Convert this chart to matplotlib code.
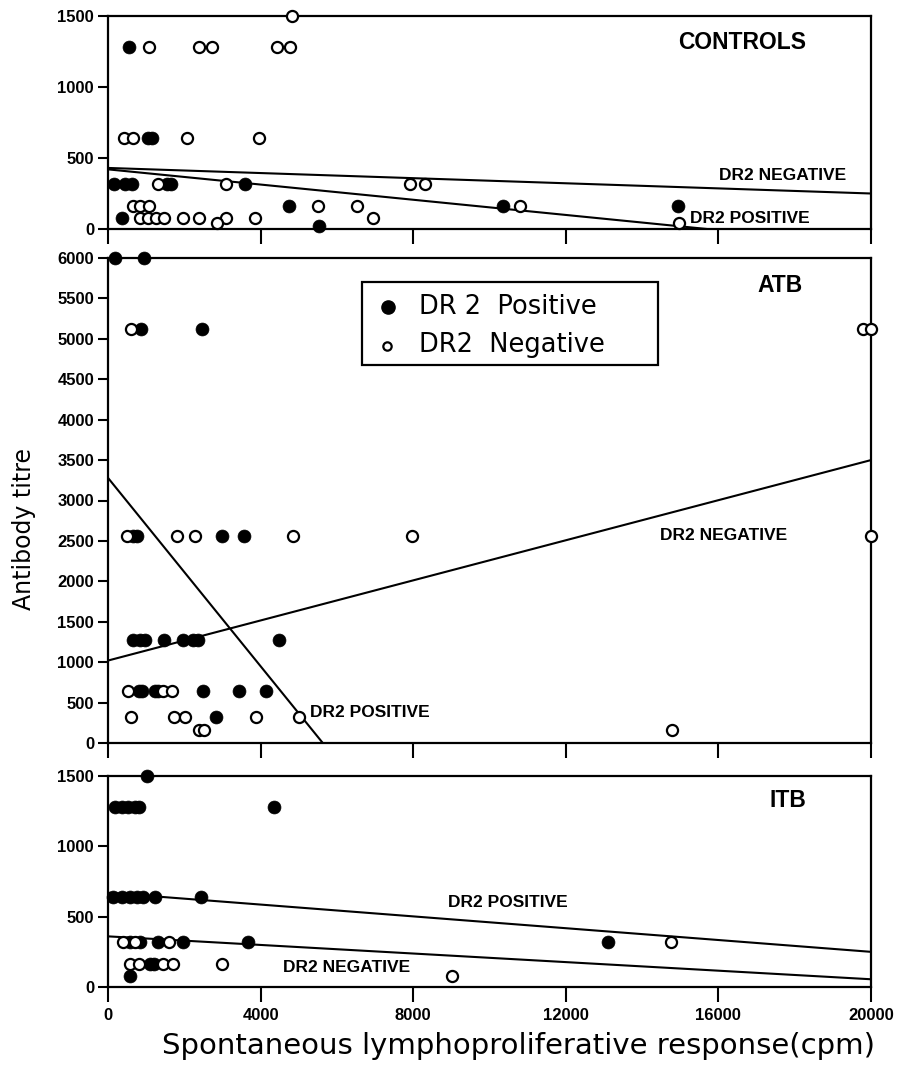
import matplotlib
matplotlib.use("Agg")
import matplotlib.pyplot as plt
from matplotlib.patches import Rectangle

# ---------------- data ----------------
x_ticks = [0, 4000, 8000, 12000, 16000, 20000]

# CONTROLS
ctrl_pos_x = [550, 1040, 1145, 157, 446, 638, 1540, 1640, 3591, 4735, 10345, 14932, 359, 5530]
ctrl_pos_y = [1280, 640, 640, 320, 320, 320, 320, 320, 320, 160, 160, 160, 80, 20]
ctrl_neg_x = [4823, 1075, 2377, 2726, 4421, 4770, 419, 664, 2071, 3966, 1319, 3093, 7915, 8309,
              664, 838, 1075, 5504, 6526, 10800, 838, 1057, 1258, 1468, 1974, 2377, 3093, 3853,
              6937, 2866, 14967]
ctrl_neg_y = [1500, 1280, 1280, 1280, 1280, 1280, 640, 640, 640, 640, 320, 320, 320, 320,
              160, 160, 160, 160, 160, 160, 80, 80, 80, 80, 80, 80, 80, 80,
              80, 40, 40]
ctrl_neg_line_x = [0, 20000]
ctrl_neg_line_y = [430, 250]
ctrl_pos_line_x = [0, 15700]
ctrl_pos_line_y = [420, 0]

# ATB
atb_pos_x = [183, 943, 856, 2472, 664, 751, 2980, 3565, 664, 838, 970, 1468, 1957, 2237, 2351,
             4482, 821, 882, 1232, 1319, 2481, 3443, 4141, 2831]
atb_pos_y = [6000, 6000, 5120, 5120, 2560, 2560, 2560, 2560, 1280, 1280, 1280, 1280, 1280, 1280,
             1280, 1280, 640, 640, 640, 640, 640, 640, 640, 320]
atb_neg_x = [594, 19800, 20000, 489, 1817, 2289, 4857, 7958, 20000, 533, 1450, 1686,
             594, 1730, 2018, 3870, 5006, 2385, 2516, 14773]
atb_neg_y = [5120, 5120, 5120, 2560, 2560, 2560, 2560, 2560, 2560, 640, 640, 640,
             320, 320, 320, 320, 320, 160, 160, 160]
atb_neg_line_x = [0, 20000]
atb_neg_line_y = [1020, 3500]
atb_pos_line_x = [0, 5630]
atb_pos_line_y = [3280, 0]

# ITB
itb_pos_x = [1014, 183, 359, 533, 708, 821, 4359, 140, 359, 577, 751, 926, 1232, 2429,
             577, 838, 1319, 1974, 3678, 13114, 1101, 1206, 577]
itb_pos_y = [1500, 1280, 1280, 1280, 1280, 1280, 1280, 640, 640, 640, 640, 640, 640, 640,
             320, 320, 320, 320, 320, 320, 160, 160, 80]
itb_neg_x = [402, 708, 1599, 14757, 577, 821, 1450, 1712, 2980, 9025]
itb_neg_y = [320, 320, 320, 320, 160, 160, 160, 160, 160, 80]
itb_pos_line_x = [0, 20000]
itb_pos_line_y = [670, 250]
itb_neg_line_x = [0, 20000]
itb_neg_line_y = [360, 55]

legend_labels = ['DR 2  Positive', 'DR2  Negative']

# ---------------- figure ----------------
fig = plt.figure(figsize=(9, 10.67), dpi=100)

left, width = 108 / 900, 763 / 900
H = 1067
ax_top = fig.add_axes([left, (H - 229) / H, width, 213 / H])
ax_mid = fig.add_axes([left, (H - 743) / H, width, 485 / H])
ax_bot = fig.add_axes([left, (H - 987) / H, width, 211 / H])

tick_family = ['Liberation Sans Narrow', 'Liberation Sans', 'DejaVu Sans']
lab_font = ['Liberation Sans', 'DejaVu Sans']

FILLED = dict(marker='o', linestyle='none', markersize=9.3, markerfacecolor='black',
              markeredgecolor='black', markeredgewidth=0.5, clip_on=False, zorder=4)
OPEN = dict(marker='o', linestyle='none', markersize=8.0, markerfacecolor='white',
            markeredgecolor='black', markeredgewidth=1.6, clip_on=False, zorder=5)
LINE = dict(color='black', linewidth=1.5, zorder=3)


def style(ax, ymax, yticks, show_xlabels):
    ax.set_xlim(0, 20000)
    ax.set_ylim(0, ymax)
    ax.set_xticks(x_ticks)
    ax.set_yticks(yticks)
    for s in ax.spines.values():
        s.set_linewidth(1.6)
    ax.tick_params(axis='x', direction='out', length=11, width=1.5, pad=4,
                   labelbottom=show_xlabels)
    ax.tick_params(axis='y', direction='out', length=7, width=1.5, pad=3)
    for lab in ax.get_xticklabels() + ax.get_yticklabels():
        lab.set_fontfamily(tick_family)
        lab.set_fontweight('bold')
        lab.set_fontsize(12)


# CONTROLS panel
ax = ax_top
ax.plot(ctrl_neg_line_x, ctrl_neg_line_y, **LINE)
ax.plot(ctrl_pos_line_x, ctrl_pos_line_y, **LINE)
ax.plot(ctrl_neg_x, ctrl_neg_y, **OPEN)
ax.plot(ctrl_pos_x, ctrl_pos_y, **FILLED)
style(ax, 1500, [0, 500, 1000, 1500], False)
ax.text(18300, 1316, 'CONTROLS', ha='right', va='center', fontsize=16.5,
        fontweight='bold', family=lab_font)
ax.text(16012, 380, 'DR2 NEGATIVE', ha='left', va='center', fontsize=12.5,
        fontweight='bold', family=lab_font)
ax.text(15254, 74, 'DR2 POSITIVE', ha='left', va='center', fontsize=12.5,
        fontweight='bold', family=lab_font)

# ATB panel
ax = ax_mid
ax.plot(atb_neg_line_x, atb_neg_line_y, **LINE)
ax.plot(atb_pos_line_x, atb_pos_line_y, **LINE)
ax.plot(atb_neg_x, atb_neg_y, **OPEN)
ax.plot(atb_pos_x, atb_pos_y, **FILLED)
style(ax, 6000, list(range(0, 6001, 500)), False)
ax.text(18216, 5665, 'ATB', ha='right', va='center', fontsize=16.5,
        fontweight='bold', family=lab_font)
ax.text(14468, 2567, 'DR2 NEGATIVE', ha='left', va='center', fontsize=12.5,
        fontweight='bold', family=lab_font)
ax.text(5294, 377, 'DR2 POSITIVE', ha='left', va='center', fontsize=12.5,
        fontweight='bold', family=lab_font)

# legend box (drawn in axes coordinates)
ax.add_patch(Rectangle((0.3329, 0.7794), 0.388, 0.1711, transform=ax.transAxes,
                       fill=True, facecolor='white', edgecolor='black', linewidth=1.6,
                       zorder=6))
ax.plot([0.367], [0.899], marker='o', linestyle='none', markersize=9.5,
        markerfacecolor='black', markeredgecolor='black', transform=ax.transAxes, zorder=7)
ax.plot([0.3657], [0.8192], marker='o', linestyle='none', markersize=6,
        markerfacecolor='white', markeredgecolor='black', markeredgewidth=1.6,
        transform=ax.transAxes, zorder=7)
ax.text(0.4076, 0.899, legend_labels[0], transform=ax.transAxes, ha='left', va='center',
        fontsize=18.5, zorder=7)
ax.text(0.4076, 0.8206, legend_labels[1], transform=ax.transAxes, ha='left', va='center',
        fontsize=18.5, zorder=7)

# ITB panel
ax = ax_bot
ax.plot(itb_pos_line_x, itb_pos_line_y, **LINE)
ax.plot(itb_neg_line_x, itb_neg_line_y, **LINE)
ax.plot(itb_neg_x, itb_neg_y, **OPEN)
ax.plot(itb_pos_x, itb_pos_y, **FILLED)
style(ax, 1500, [0, 500, 1000, 1500], True)
ax.text(18300, 1329, 'ITB', ha='right', va='center', fontsize=16.5,
        fontweight='bold', family=lab_font)
ax.text(8920, 604, 'DR2 POSITIVE', ha='left', va='center', fontsize=12.5,
        fontweight='bold', family=lab_font)
ax.text(4579, 139, 'DR2 NEGATIVE', ha='left', va='center', fontsize=12.5,
        fontweight='bold', family=lab_font)

fig.text(24 / 900, 1 - 529 / H, 'Antibody titre', rotation=90, ha='center', va='center',
         fontsize=17)
fig.text(519 / 900, 1 - 1046 / H, 'Spontaneous lymphoproliferative response(cpm)',
         ha='center', va='center', fontsize=21)

fig.savefig('out.png', dpi=100)
